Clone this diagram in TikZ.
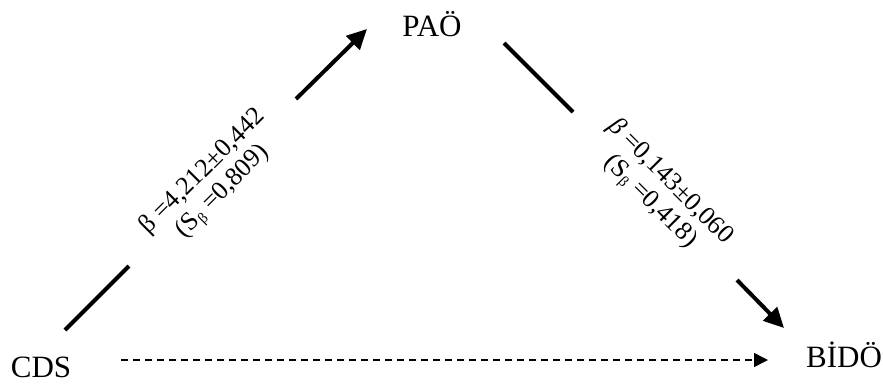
\documentclass[tikz,border=0pt]{standalone}
\usepackage{fontspec}
\setmainfont{Liberation Serif}
\usetikzlibrary{arrows.meta}
\begin{document}
\begin{tikzpicture}[x=1pt,y=-1pt,
  lbl/.style={font=\fontsize{31}{35}\selectfont, inner sep=0pt, anchor=center},
  coef/.style={font=\fontsize{26}{28}\selectfont, align=center, inner sep=0pt},
  thick line/.style={line width=4pt},
  arr/.style={thick line, -{Triangle[length=20pt,width=19pt]}},
  dash arr/.style={line width=1.5pt, dash pattern=on 7pt off 5pt, -{Triangle[length=14pt,width=14pt]}}
]
\useasboundingbox (0,0) rectangle (883,383);
\node[lbl] (cds) at (41,367) {CDS};
\node[lbl] (pao) at (432,24) {PAÖ};
\node[lbl] (bido) at (844,355) {BİDÖ};
\coordinate (a1) at (65,330);
\coordinate (a2) at (129,266);
\coordinate (a3) at (296,99);
\coordinate (a4) at (367,29);
\coordinate (b1) at (504,43);
\coordinate (b2) at (573,112);
\coordinate (b3) at (737,280);
\coordinate (b4) at (784,328);
\coordinate (c1) at (121,360);
\coordinate (c2) at (768,360);
\draw[thick line] (a1) -- (a2);
\draw[arr] (a3) -- (a4);
\draw[thick line] (b1) -- (b2);
\draw[arr] (b3) -- (b4);
\draw[dash arr] (c1) -- (c2);
\node[coef, rotate=45] (l1) at (213,182) {β =4,212±0,442\\(S\textsubscript{\fontsize{15}{15}\selectfont β} =0,809)};
\node[coef, rotate=-45] (l2) at (660,192) {\textit{β} =0,143±0,060\\(S\textsubscript{\fontsize{15}{15}\selectfont β} =0,418)};
\end{tikzpicture}
\end{document}
